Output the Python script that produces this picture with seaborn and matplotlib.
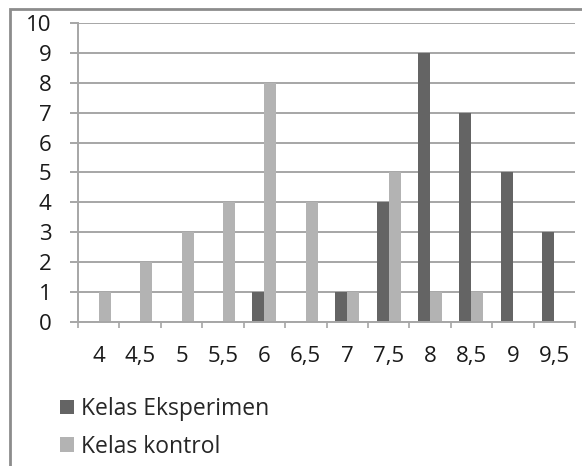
import numpy as np
import pandas as pd
import matplotlib.pyplot as plt
import seaborn as sns
from matplotlib.patches import Rectangle

# --- data ---
nilai = ["4", "4,5", "5", "5,5", "6", "6,5", "7", "7,5", "8", "8,5", "9", "9,5"]
eksperimen = [0, 0, 0, 0, 1, 0, 1, 4, 9, 7, 5, 3]
kontrol = [1, 2, 3, 4, 8, 4, 1, 5, 1, 1, 0, 0]
series_names = ["Kelas Eksperimen", "Kelas kontrol"]
colors = ["#646464", "#b3b3b3"]

df = pd.DataFrame({
    "nilai": nilai * 2,
    "jumlah": eksperimen + kontrol,
    "kelas": [series_names[0]] * len(nilai) + [series_names[1]] * len(nilai),
})

sns.set_theme(style="white")
plt.rcParams["font.family"] = ["Open Sans", "DejaVu Sans"]

fig = plt.figure(figsize=(5.82, 4.66), dpi=100)
ax = fig.add_axes([0.134, 0.309, 0.854, 0.642])

sns.barplot(data=df, x="nilai", y="jumlah", hue="kelas", order=nilai,
            hue_order=series_names, palette=colors, width=0.58, gap=0,
            saturation=1, linewidth=0, ax=ax, legend=True)

ax.set_ylim(0, 10)
ax.set_yticks(range(0, 11))
ax.set_xlim(-0.5, len(nilai) - 0.5)
ax.set_xlabel("")
ax.set_ylabel("")

# gridlines and axes in Excel style
ax.yaxis.grid(True, color="#a6a6a6", linewidth=1.4)
ax.set_axisbelow(True)
for s in ["top", "right"]:
    ax.spines[s].set_visible(False)
for s in ["left", "bottom"]:
    ax.spines[s].set_color("#a6a6a6")
    ax.spines[s].set_linewidth(1.4)

fs = 16
ax.set_xticks(np.arange(-0.5, len(nilai)), minor=True)
ax.tick_params(axis="x", which="minor", bottom=True, length=4.5, width=1.2,
               color="#a6a6a6", direction="out")
ax.tick_params(axis="x", which="major", bottom=False, length=0, pad=17,
               labelsize=fs, labelcolor="#1a1a1a")
ax.tick_params(axis="y", left=True, length=6, width=1.4, color="#a6a6a6",
               direction="out", pad=13, labelsize=fs, labelcolor="#1a1a1a")

handles, labels = ax.get_legend_handles_labels()
ax.get_legend().remove()
fig.legend(handles, labels, loc="upper left", bbox_to_anchor=(0.088, 0.168),
           frameon=False, fontsize=16.5, handlelength=0.6, handleheight=0.6,
           handletextpad=0.3, labelspacing=0.6, borderaxespad=0)

# outer chart border (top and left visible)
fig.patches.append(Rectangle((10 / 582, -0.1), 1.2, 1 - 9 / 466 + 0.1,
                             transform=fig.transFigure, fill=False,
                             edgecolor="#8c8c8c", linewidth=2))

fig.savefig("out.png", dpi=100)
